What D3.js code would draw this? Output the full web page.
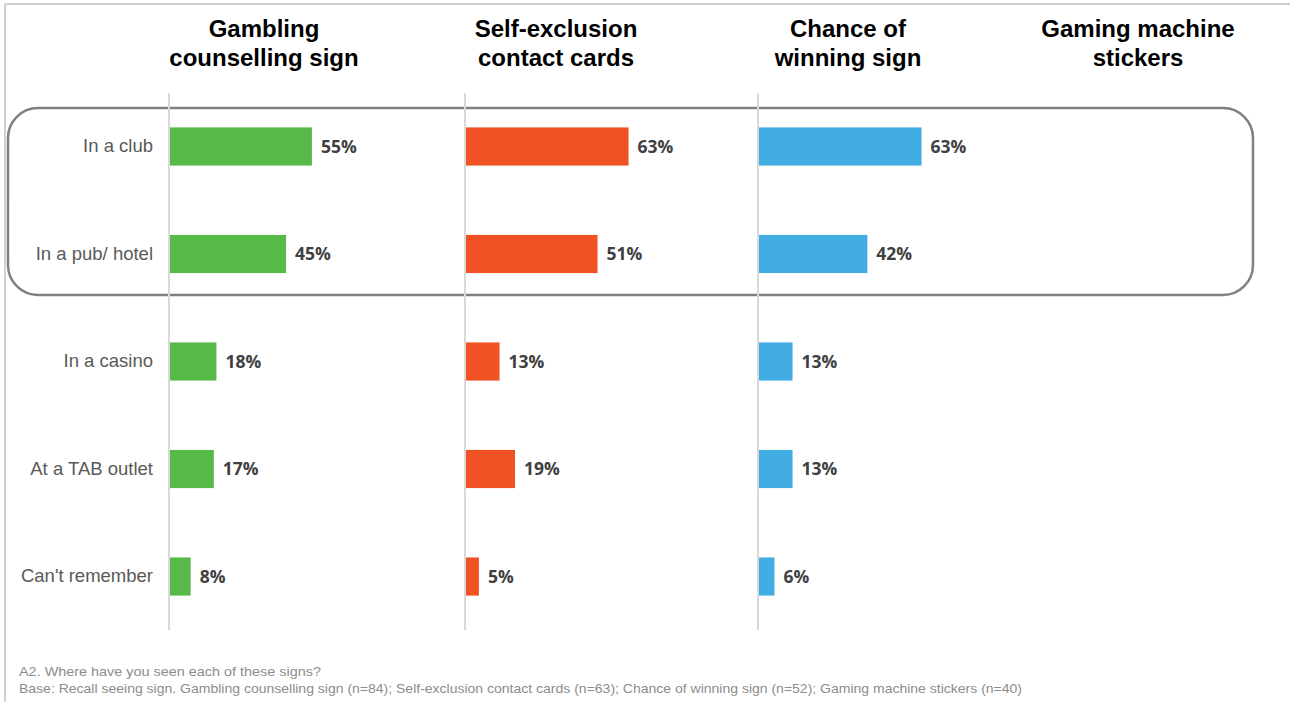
<!DOCTYPE html>
<html><head><meta charset="utf-8">
<script src="https://cdn.jsdelivr.net/npm/d3@7"></script>
<style>html,body{margin:0;padding:0;background:#fff;}svg{display:block;}</style>
</head><body>
<svg id="c" width="1290" height="702"></svg>
<script>
const categories = ["In a club", "In a pub/ hotel", "In a casino", "At a TAB outlet", "Can't remember"];
const panelTitles = [["Gambling", "counselling sign"], ["Self-exclusion", "contact cards"], ["Chance of", "winning sign"], ["Gaming machine", "stickers"]];
const gamblingCounselling = [55, 45, 18, 17, 8];
const selfExclusion = [63, 51, 13, 19, 5];
const chanceOfWinning = [63, 42, 13, 13, 6];
const gamingMachine = [];
const seriesValues = [gamblingCounselling, selfExclusion, chanceOfWinning, gamingMachine];
const colors = ["#57b947", "#f15223", "#42ade3", "#999"];
const footnotes = ["A2. Where have you seen each of these signs?",
  "Base: Recall seeing sign. Gambling counselling sign (n=84); Self-exclusion contact cards (n=63); Chance of winning sign (n=52); Gaming machine stickers (n=40)"];
const footnoteWidths = [302, 1003];

const svg = d3.select("#c");
// frame
svg.append("line").attr("x1",5).attr("x2",5).attr("y1",4).attr("y2",702).attr("stroke","#d0d0d0").attr("stroke-width",2);
svg.append("line").attr("x1",5).attr("x2",1290).attr("y1",4).attr("y2",4).attr("stroke","#d0d0d0").attr("stroke-width",2);

const panelX = [169, 465, 758, 1051];
const titleX = [264, 556, 848, 1138];
const y = d3.scaleBand().domain(categories).range([93, 630]).paddingInner(0.645).paddingOuter(0.32);
const x = d3.scaleLinear().domain([0, 100]).range([0, 258]);

// highlight box
svg.append("rect").attr("x",8).attr("y",108).attr("width",1245).attr("height",187)
  .attr("rx",30).attr("ry",30).attr("fill","none").attr("stroke","#808080").attr("stroke-width",2.5);

seriesValues.forEach((vals, p) => {
  const g = svg.append("g").attr("transform", `translate(${panelX[p]},0)`);
  const t = svg.append("text").attr("x", titleX[p]).attr("text-anchor","middle")
    .attr("font-family","Liberation Sans, Arial, sans-serif").attr("font-weight","bold").attr("font-size",24).attr("fill","#000");
  panelTitles[p].forEach((line,i)=>t.append("tspan").attr("x",titleX[p]).attr("y",37+29*i).text(line));
  if (!vals.length) return;
  if (p === 0) {
    const axg = g.append("g").call(d3.axisLeft(y).tickSize(0).tickPadding(16));
    axg.select(".domain").remove();
    axg.selectAll("text").attr("font-family","Liberation Sans, Arial, sans-serif").attr("font-size",18.5)
      .attr("fill","#595959");
  }
  g.append("line").attr("x1",0).attr("x2",0).attr("y1",93).attr("y2",630).attr("stroke","#d9d9d9").attr("stroke-width",2);
  g.selectAll("rect.bar").data(vals).join("rect").attr("class","bar")
    .attr("x",1).attr("y",(d,i)=>y(categories[i])).attr("height",y.bandwidth())
    .attr("width",d=>x(d)).attr("fill",colors[p]);
  g.selectAll("text.val").data(vals).join("text").attr("class","val")
    .attr("x",d=>x(d)+10).attr("y",(d,i)=>y(categories[i])+y.bandwidth()/2).attr("dy","0.36em")
    .attr("font-family","Open Sans, sans-serif").attr("font-weight","bold").attr("font-size",17.5).attr("fill","#404040")
    .text(d=>d+"%");
});

footnotes.forEach((f,i)=>svg.append("text").attr("x",19).attr("y",676+17*i)
  .attr("font-family","Liberation Sans, Arial, sans-serif").attr("font-size",13).attr("fill","#8c8c8c")
  .attr("textLength",footnoteWidths[i]).attr("lengthAdjust","spacingAndGlyphs").text(f));
</script>
</body></html>
